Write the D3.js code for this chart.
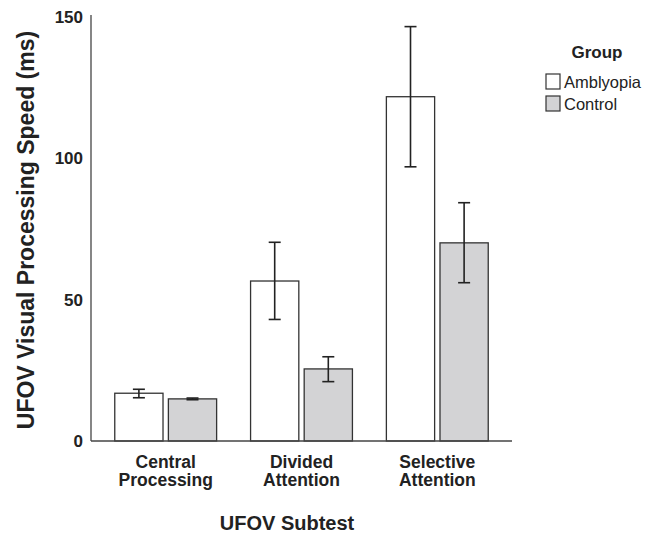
<!DOCTYPE html>
<html>
<head>
<meta charset="utf-8">
<title>UFOV subtests</title>
<script src="https://cdnjs.cloudflare.com/ajax/libs/d3/7.8.5/d3.min.js"></script>
<style>
  body { margin: 0; background: #fff; }
  svg { font-family: "Liberation Sans", Arial, sans-serif; }
</style>
</head>
<body>
<svg width="648" height="533"></svg>
<script>
// data
var subtests = ["Central Processing", "Divided Attention", "Selective Attention"];
var groups = ["Amblyopia", "Control"];
var amblyopiaMean = [16.9, 56.6, 121.8];
var amblyopiaLow = [15.3, 43.0, 97.0];
var amblyopiaHigh = [18.3, 70.3, 146.6];
var controlMean = [14.9, 25.5, 70.1];
var controlLow = [14.6, 21.0, 56.0];
var controlHigh = [15.2, 29.8, 84.3];
var yTicks = [0, 50, 100, 150];

var colors = {"Amblyopia": "#ffffff", "Control": "#d3d3d5"};

var rows = [];
subtests.forEach(function(s, i) {
  rows.push({subtest: s, group: "Amblyopia", mean: amblyopiaMean[i], lo: amblyopiaLow[i], hi: amblyopiaHigh[i]});
  rows.push({subtest: s, group: "Control", mean: controlMean[i], lo: controlLow[i], hi: controlHigh[i]});
});

var svg = d3.select("svg");
// note: "top" is taken by window.top, so plotTop etc.
var plotLeft = 91, plotRight = 512, plotTop = 17, plotBottom = 441;

var x0 = d3.scaleBand().domain(subtests).range([plotLeft, plotRight]).paddingInner(0.25).paddingOuter(0.175);
var x1 = d3.scaleBand().domain(groups).range([0, x0.bandwidth()]).paddingInner(0.1);
var y = d3.scaleLinear().domain([0, 150]).range([plotBottom, plotTop]);

// bars
svg.append("g").selectAll("rect")
  .data(rows)
  .enter()
  .append("rect")
  .attr("x", function(d) { return x0(d.subtest) + x1(d.group); })
  .attr("y", function(d) { return y(d.mean); })
  .attr("width", x1.bandwidth())
  .attr("height", function(d) { return y(0) - y(d.mean); })
  .style("fill", function(d) { return colors[d.group]; })
  .style("stroke", "#333")
  .style("stroke-width", "1.3px");

// error bars
var err = svg.append("g").selectAll("g")
  .data(rows)
  .enter()
  .append("g")
  .attr("transform", function(d) { return "translate(" + (x0(d.subtest) + x1(d.group) + x1.bandwidth() / 2) + ",0)"; })
  .style("stroke", "#222")
  .style("stroke-width", "1.6px");
err.append("line").attr("y1", function(d) { return y(d.lo); }).attr("y2", function(d) { return y(d.hi); });
err.append("line").attr("x1", -6).attr("x2", 6).attr("y1", function(d) { return y(d.hi); }).attr("y2", function(d) { return y(d.hi); });
err.append("line").attr("x1", -6).attr("x2", 6).attr("y1", function(d) { return y(d.lo); }).attr("y2", function(d) { return y(d.lo); });

// y axis
var yAxis = svg.append("g")
  .attr("transform", "translate(" + plotLeft + ",0)")
  .call(d3.axisLeft(y).tickValues(yTicks).tickSize(0).tickPadding(8));
yAxis.select(".domain").attr("d", "M0," + (plotTop - 2) + "V" + plotBottom).style("stroke", "#444").style("stroke-width", "1.3px");
yAxis.selectAll("text").style("font-size", "17px").style("font-weight", "bold").style("fill", "#222")
  .style("font-family", "Liberation Sans, Arial, sans-serif");

// x axis, two-line labels
var xAxis = svg.append("g")
  .attr("transform", "translate(0," + plotBottom + ")")
  .call(d3.axisBottom(x0).tickSize(0).tickFormat(""));
xAxis.select(".domain").attr("d", "M" + plotLeft + ",0H" + plotRight).style("stroke", "#444").style("stroke-width", "1.3px");
xAxis.selectAll(".tick").each(function(d) {
  var words = d.split(" ");
  var t = d3.select(this).append("text")
    .attr("text-anchor", "middle")
    .style("font-size", "17.5px")
    .style("font-weight", "bold")
    .style("fill", "#222");
  t.append("tspan").attr("x", 0).attr("y", 27).text(words[0]);
  t.append("tspan").attr("x", 0).attr("y", 45).text(words[1]);
});

// axis titles
svg.append("text")
  .attr("x", 287).attr("y", 530)
  .attr("text-anchor", "middle")
  .style("font-size", "20px").style("font-weight", "bold").style("fill", "#222")
  .text("UFOV Subtest");
svg.append("text")
  .attr("transform", "translate(34,230) rotate(-90)")
  .attr("text-anchor", "middle")
  .style("font-size", "23px").style("font-weight", "bold").style("fill", "#222")
  .text("UFOV Visual Processing Speed (ms)");

// legend
var legend = svg.append("g").attr("transform", "translate(546,0)");
legend.append("text").attr("x", 51).attr("y", 58).attr("text-anchor", "middle")
  .style("font-size", "17px").style("font-weight", "bold").style("fill", "#222").text("Group");
var li = legend.selectAll("g.item").data(groups).enter().append("g")
  .attr("transform", function(d, i) { return "translate(0," + (74 + i * 22) + ")"; });
li.append("rect").attr("width", 14).attr("height", 15)
  .style("fill", function(d) { return colors[d]; }).style("stroke", "#333").style("stroke-width", "1.2px");
li.append("text").attr("x", 18).attr("y", 14)
  .style("font-size", "16.5px").style("fill", "#222").text(function(d) { return d; });
</script>
</body>
</html>
